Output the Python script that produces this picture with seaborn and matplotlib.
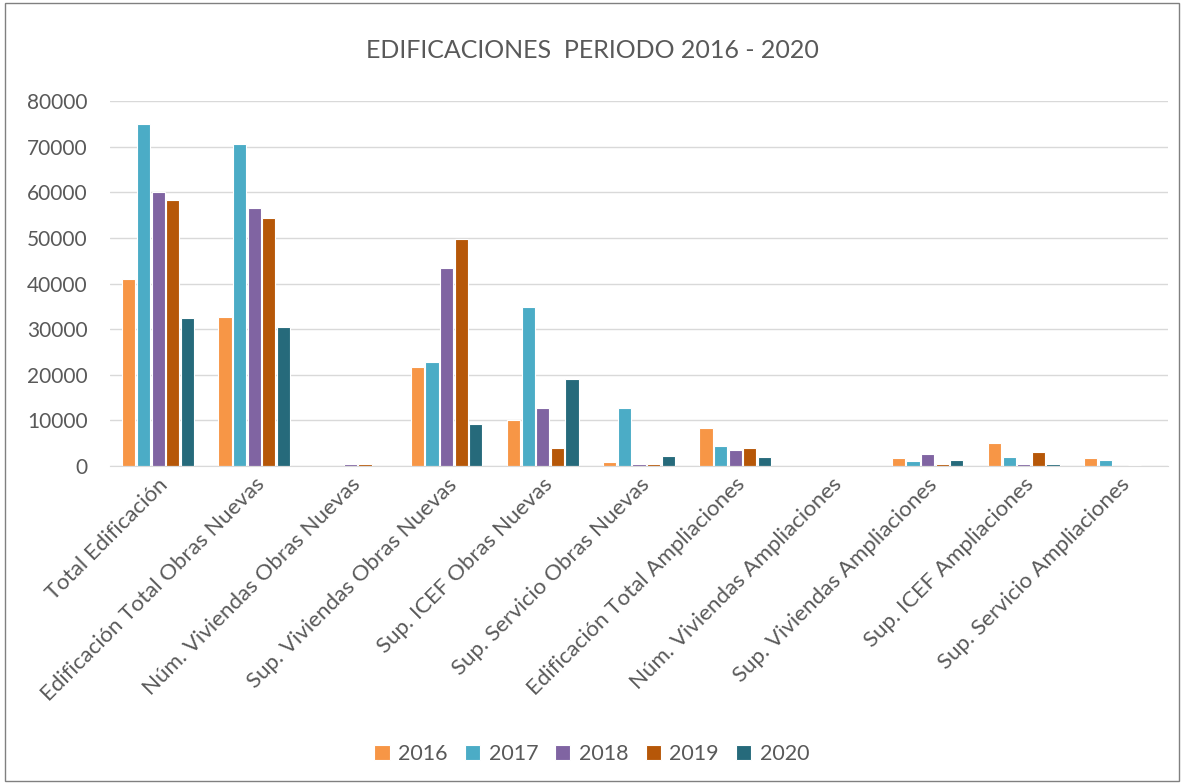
import matplotlib
matplotlib.use("Agg")
import matplotlib.pyplot as plt
import seaborn as sns
import pandas as pd
from matplotlib.patches import Rectangle

categorias = ["Total Edificación", "Edificación Total Obras Nuevas", "Núm. Viviendas Obras Nuevas",
              "Sup. Viviendas Obras Nuevas", "Sup. ICEF Obras Nuevas", "Sup. Servicio Obras Nuevas",
              "Edificación Total Ampliaciones", "Núm. Viviendas Ampliaciones", "Sup. Viviendas Ampliaciones",
              "Sup. ICEF Ampliaciones", "Sup. Servicio Ampliaciones"]
anios = ["2016", "2017", "2018", "2019", "2020"]

v2016 = [41000, 32700, 100, 21700, 10000, 900, 8300, 30, 1700, 5000, 1700]
v2017 = [74900, 70500, 100, 22700, 34900, 12800, 4400, 30, 1100, 2000, 1300]
v2018 = [60100, 56600, 400, 43300, 12800, 400, 3400, 30, 2700, 400, 50]
v2019 = [58300, 54300, 400, 49700, 3900, 400, 3900, 30, 400, 3100, 200]
v2020 = [32400, 30500, 100, 9100, 19100, 2100, 2000, 30, 1300, 400, 20]

colores = ["#F79646", "#4BACC6", "#8064A2", "#B65708", "#266A7B"]

valores = [v2016, v2017, v2018, v2019, v2020]
filas = []
for anio, serie in zip(anios, valores):
    for cat, v in zip(categorias, serie):
        filas.append({"CATEGORIA": cat, "AÑO": anio, "VALOR": v})
df = pd.DataFrame(filas)

sns.set_style("white")
plt.rcParams['font.family'] = ['Lato', 'DejaVu Sans']

fig = plt.figure(figsize=(11.84, 7.84), dpi=100)
ax = fig.add_axes([110 / 1184, 1 - 466 / 784, 1058 / 1184, 365 / 784])

sns.barplot(data=df, x="CATEGORIA", y="VALOR", hue="AÑO", palette=colores, saturation=1,
            width=0.76, gap=0.1, edgecolor="white", linewidth=0.8, ax=ax)

ax.set_ylim(0, 80000)
ax.set_yticks(range(0, 80001, 10000))
ax.set_xlim(-0.5, len(categorias) - 0.5)
ax.yaxis.grid(True, color="#D9D9D9", linewidth=1)
ax.set_axisbelow(True)
for s in ["top", "right", "left"]:
    ax.spines[s].set_visible(False)
ax.spines["bottom"].set_color("#D9D9D9")
ax.tick_params(axis="both", length=0, colors="#595959")
ax.tick_params(axis="y", pad=16, labelsize=15)
ax.tick_params(axis="x", pad=6, labelsize=16)
plt.setp(ax.get_xticklabels(), rotation=45, ha="right", rotation_mode="anchor")
ax.set_xlabel("")
ax.set_ylabel("")

fig.text(0.5, 1 - 50 / 784, "EDIFICACIONES  PERIODO 2016 - 2020", ha="center", va="center",
         fontsize=18, color="#595959")

handles, labels = ax.get_legend_handles_labels()
ax.legend_.remove()
fig.legend(handles, labels, loc="center", bbox_to_anchor=(0.5, 1 - 754 / 784), ncol=5,
           frameon=False, fontsize=15.5, handlelength=0.7, handleheight=0.7,
           columnspacing=0.8, handletextpad=0.4, labelcolor="#595959")

fig.patches.append(Rectangle((0.004, 0.004), 0.992, 0.992, transform=fig.transFigure,
                             fill=False, edgecolor="#808080", linewidth=1))

fig.savefig("out.png", dpi=100)
